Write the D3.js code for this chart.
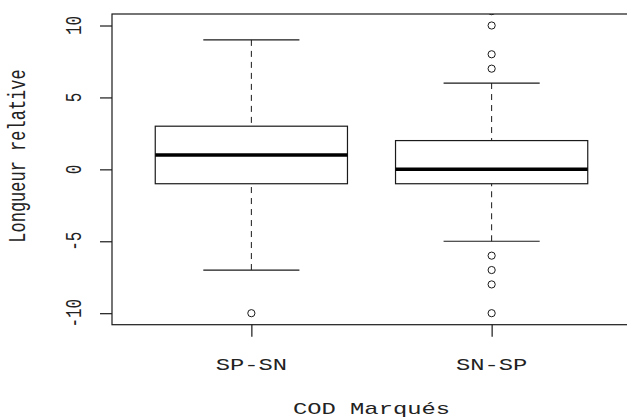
<!DOCTYPE html>
<html>
<head>
<meta charset="utf-8">
<script src="https://cdn.jsdelivr.net/npm/d3@7"></script>
<style>
  html, body { margin: 0; padding: 0; background: #fff; }
  svg { display: block; }
  text { font-family: "Liberation Mono", "DejaVu Sans Mono", monospace; fill: #222; }
</style>
</head>
<body>
<svg id="chart" width="627" height="419"></svg>
<script>
// ---- data ----
const categories   = ["SP-SN", "SN-SP"];
const whiskerLow   = [-7, -5];
const q1           = [-1, -1];
const medians      = [1, 0];
const q3           = [3, 2];
const whiskerHigh  = [9, 6];
const outliersSPSN = [-10];
const outliersSNSP = [7, 8, 10, 11, -6, -7, -8, -10];
const yTicks       = [-10, -5, 0, 5, 10];
const xTitle = "COD Marqués";
const yTitle = "Longueur relative";

const outliers = [outliersSPSN, outliersSNSP];

// ---- layout ----
const W = 627, H = 419;
const plot = { left: 112, right: 631, top: 14, bottom: 324.7 };
const sx = 1.4; // horizontal stretch of the text in the reference

const svg = d3.select("#chart");

const x = d3.scaleLinear().domain([0.42, categories.length + 0.58]).range([plot.left, plot.right]);
const y = d3.scaleLinear().domain([-10.8, 10.8]).range([plot.bottom, plot.top]);

svg.append("defs").append("clipPath").attr("id", "plotclip")
  .append("rect").attr("x", plot.left).attr("y", plot.top)
  .attr("width", plot.right - plot.left).attr("height", plot.bottom - plot.top);

const g = svg.append("g").attr("clip-path", "url(#plotclip)");

const data = categories.map((c, i) => ({
  c, i: i + 1, lo: whiskerLow[i], q1: q1[i], med: medians[i], q3: q3[i], hi: whiskerHigh[i], out: outliers[i]
}));

const boxHalf = 0.4, capHalf = 0.2;
const stroke = "#1a1a1a";

data.forEach(d => {
  // whiskers (dashed)
  g.append("line").attr("x1", x(d.i)).attr("x2", x(d.i))
    .attr("y1", y(d.hi)).attr("y2", y(d.q3))
    .attr("stroke", stroke).attr("stroke-width", 1).attr("stroke-dasharray", "6,5");
  g.append("line").attr("x1", x(d.i)).attr("x2", x(d.i))
    .attr("y1", y(d.lo)).attr("y2", y(d.q1))
    .attr("stroke", stroke).attr("stroke-width", 1).attr("stroke-dasharray", "6,5");
  // caps
  [d.hi, d.lo].forEach(v => {
    g.append("line").attr("x1", x(d.i - capHalf)).attr("x2", x(d.i + capHalf))
      .attr("y1", y(v)).attr("y2", y(v))
      .attr("stroke", stroke).attr("stroke-width", 1.2);
  });
  // box
  g.append("rect").attr("x", x(d.i - boxHalf)).attr("y", y(d.q3))
    .attr("width", x(d.i + boxHalf) - x(d.i - boxHalf)).attr("height", y(d.q1) - y(d.q3))
    .attr("fill", "none").attr("stroke", stroke).attr("stroke-width", 1.2);
  // median
  g.append("line").attr("x1", x(d.i - boxHalf)).attr("x2", x(d.i + boxHalf))
    .attr("y1", y(d.med)).attr("y2", y(d.med))
    .attr("stroke", "#000").attr("stroke-width", 3.5);
  // outliers
  g.selectAll(null).data(d.out).enter().append("circle")
    .attr("cx", x(d.i)).attr("cy", v => y(v)).attr("r", 3.6)
    .attr("fill", "none").attr("stroke", stroke).attr("stroke-width", 1);
});

// frame
svg.append("rect").attr("x", plot.left).attr("y", plot.top)
  .attr("width", plot.right - plot.left).attr("height", plot.bottom - plot.top)
  .attr("fill", "none").attr("stroke", stroke).attr("stroke-width", 1.2);

// y axis
const yAxis = svg.append("g").attr("transform", `translate(${plot.left},0)`)
  .call(d3.axisLeft(y).tickValues(yTicks).tickSize(12).tickFormat(""));
yAxis.select(".domain").remove();
yAxis.selectAll("line").attr("stroke", stroke).attr("stroke-width", 1.2);
svg.selectAll(".ylab").data(yTicks).enter().append("text")
  .attr("class", "ylab")
  .attr("transform", v => `translate(81,${y(v)}) scale(${sx},1) rotate(-90)`)
  .attr("text-anchor", "middle").attr("font-size", 16)
  .text(v => String(v));

// x axis
const xAxis = svg.append("g").attr("transform", `translate(0,${plot.bottom})`)
  .call(d3.axisBottom(x).tickValues(data.map(d => d.i)).tickSize(12).tickFormat(""));
xAxis.select(".domain").remove();
xAxis.selectAll("line").attr("stroke", stroke).attr("stroke-width", 1.2);
svg.selectAll(".xlab").data(data).enter().append("text")
  .attr("class", "xlab")
  .attr("transform", d => `translate(${x(d.i)},370) scale(${sx},1)`)
  .attr("text-anchor", "middle").attr("font-size", 17)
  .text(d => d.c);

// titles
svg.append("text")
  .attr("transform", `translate(${(plot.left + plot.right) / 2},414) scale(${sx},1)`)
  .attr("text-anchor", "middle").attr("font-size", 17)
  .text(xTitle);
svg.append("text")
  .attr("transform", `translate(25,156) scale(${sx},1) rotate(-90)`)
  .attr("text-anchor", "middle").attr("font-size", 17)
  .text(yTitle);
</script>
</body>
</html>
